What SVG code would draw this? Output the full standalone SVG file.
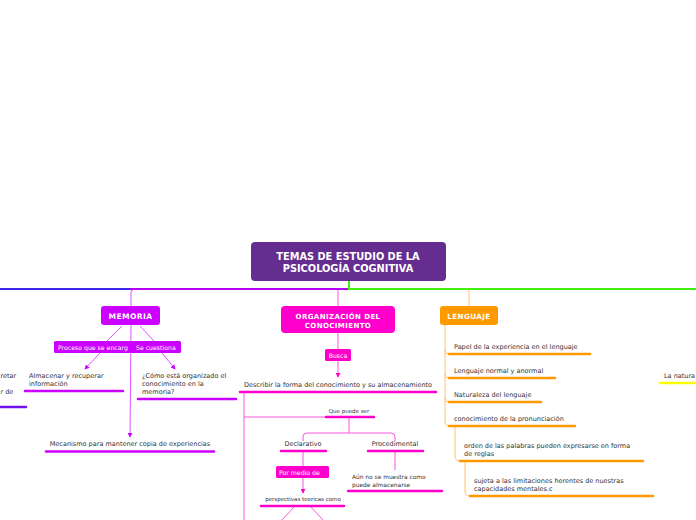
<svg xmlns="http://www.w3.org/2000/svg" width="696" height="520" viewBox="0 0 696 520">
<defs>
<style>
.t{font-family:"DejaVu Sans",Verdana,sans-serif;fill:#333;font-size:6.5px}
.s{font-size:5.5px}
.m{font-size:5.9px}
.w{font-family:"DejaVu Sans",Verdana,sans-serif;fill:#fff}
.b{font-weight:bold}
.ulm{stroke:#cc00ff;stroke-width:2.5;stroke-linecap:round}
.ulo{stroke:#ff00cc;stroke-width:2.5;stroke-linecap:round}
.ull{stroke:#ff9900;stroke-width:2.5;stroke-linecap:round}
.cm{stroke:#dd55ff;stroke-width:1;fill:none}
.co{stroke:#ff55dd;stroke-width:1;fill:none}
.cl{stroke:#ffc070;stroke-width:1;fill:none}
</style>
<marker id="am" viewBox="0 0 6 6" refX="5" refY="3" markerWidth="5" markerHeight="5" orient="auto"><path d="M0,0L6,3L0,6z" fill="#cc00ff"/></marker>
<marker id="ao" viewBox="0 0 6 6" refX="5" refY="3" markerWidth="5" markerHeight="5" orient="auto"><path d="M0,0L6,3L0,6z" fill="#ff00cc"/></marker>
</defs>
<rect width="696" height="520" fill="#fff"/>
<g id="connectors">
<line x1="0" y1="289" x2="130" y2="289" stroke="#3c28e6" stroke-width="2"/>
<line x1="130" y1="289" x2="349" y2="289" stroke="#b400f5" stroke-width="2"/>
<polyline points="349,281 349,289 696,289" stroke="#44ee11" stroke-width="2" fill="none"/>
<path class="cm" d="M131,306 V292 Q131,290 133,290"/>
<path class="co" d="M338,306 V290"/>
<path class="cl" d="M469,306 V292 Q469,290 467,290"/>
<line class="cm" x1="122" y1="326" x2="107" y2="341"/>
<line class="cm" x1="140" y1="326" x2="154" y2="341"/>
<line class="cm" x1="100" y1="353" x2="85" y2="369" marker-end="url(#am)"/>
<line class="cm" x1="162" y1="353" x2="175" y2="369" marker-end="url(#am)"/>
<line class="cm" x1="131" y1="325" x2="130" y2="437" marker-end="url(#am)"/>
<line class="co" x1="338" y1="333" x2="338" y2="349"/>
<line class="co" x1="338" y1="361" x2="338" y2="377" marker-end="url(#ao)"/>
<path class="co" d="M244,392 V520 M244,417 H325"/>
<path class="co" d="M349,417 V433 M303,441 V437 Q303,433 307,433 H391 Q395,433 395,437 V441"/>
<line class="co" x1="303" y1="451" x2="303" y2="466"/>
<line class="co" x1="303" y1="478" x2="303" y2="493" marker-end="url(#ao)"/>
<line class="co" x1="395" y1="451" x2="395" y2="470"/>
<line class="co" x1="295" y1="506" x2="281" y2="521"/>
<line class="co" x1="310" y1="506" x2="324" y2="521"/>
<path class="cl" d="M445,325 V421 Q445,426 449,426 M445,350 Q445,354 449,354 M445,374 Q445,378 449,378 M445,398 Q445,402 449,402"/>
<path class="cl" d="M455,426 V456 Q455,461 460,461"/>
<path class="cl" d="M465,461 V491 Q465,496 470,496"/>
</g>
<g id="title">
<rect x="251" y="242" width="195" height="39" rx="4" fill="#662d91"/>
<text class="w b" x="348" y="260" font-size="9.8" text-anchor="middle">TEMAS DE ESTUDIO DE LA</text>
<text class="w b" x="348" y="272" font-size="9.8" text-anchor="middle">PSICOLOGÍA COGNITIVA</text>
</g>
<g id="memoria">
<rect x="101" y="306" width="59" height="19" rx="3" fill="#cc00ff"/>
<text class="w b" x="130.5" y="319" font-size="7.6" text-anchor="middle" letter-spacing="0.4">MEMORIA</text>
</g>
<g id="label-proceso">
<rect x="54" y="341" width="81" height="12" rx="1.5" fill="#cc00ff"/>
<text class="w" x="58" y="349.5" font-size="6.2">Proceso que se encarg</text>
</g>
<g id="label-cuestiona">
<rect x="133" y="341" width="48" height="12" rx="1.5" fill="#cc00ff"/>
<text class="w" x="136" y="349.5" font-size="6.2">Se cuestiona</text>
</g>
<g id="left-cut">
<text class="t" x="0.5" y="378">retar</text>
<text class="t" x="0.5" y="394">r de</text>
<line x1="-2" y1="407" x2="26" y2="407" stroke="#7010ee" stroke-width="2.5" stroke-linecap="round"/>
</g>
<g id="almacenar">
<text class="t" x="29" y="378">Almacenar y recuperar</text>
<text class="t" x="29" y="386">información</text>
<line class="ulm" x1="25" y1="391" x2="123" y2="391"/>
</g>
<g id="como">
<text class="t" x="142" y="378">¿Cómo está organizado el</text>
<text class="t" x="142" y="386">conocimiento en la</text>
<text class="t" x="142" y="394">memoria?</text>
<line class="ulm" x1="138" y1="399" x2="236" y2="399"/>
</g>
<g id="mecanismo">
<text class="t" x="130" y="446" text-anchor="middle">Mecanismo para mantener copia de experiencias</text>
<line class="ulm" x1="46" y1="451.5" x2="214" y2="451.5"/>
</g>
<g id="organizacion">
<rect x="281" y="306" width="114" height="27" rx="4" fill="#ff00cc"/>
<text class="w b" x="338" y="318.5" font-size="7" text-anchor="middle" letter-spacing="0.4">ORGANIZACIÓN DEL</text>
<text class="w b" x="338" y="328" font-size="7" text-anchor="middle" letter-spacing="0.4">CONOCIMIENTO</text>
</g>
<g id="label-busca">
<rect x="325" y="349" width="26" height="12" rx="1.5" fill="#ff00cc"/>
<text class="w" x="338" y="357.5" font-size="6.2" text-anchor="middle">Busca</text>
</g>
<g id="describir">
<text class="t" x="338" y="387" text-anchor="middle">Describir la forma del conocimiento y su almacenamiento</text>
<line class="ulo" x1="240" y1="392" x2="436" y2="392"/>
</g>
<g id="quepuede">
<text class="t s" x="349" y="413" text-anchor="middle">Que puede ser</text>
<line class="ulo" x1="326" y1="417" x2="374" y2="417"/>
</g>
<g id="declarativo">
<text class="t" x="303" y="446" text-anchor="middle">Declarativo</text>
<line class="ulo" x1="281" y1="451" x2="326" y2="451"/>
</g>
<g id="procedimental">
<text class="t" x="395" y="446" text-anchor="middle">Procedimental</text>
<line class="ulo" x1="368" y1="451" x2="423" y2="451"/>
</g>
<g id="label-pormedio">
<rect x="276" y="466" width="53" height="12" rx="1.5" fill="#ff00cc"/>
<text class="w" x="279" y="474.5" font-size="6.2">Por medio de</text>
</g>
<g id="perspectivas">
<text class="t s" x="303" y="501" text-anchor="middle">perspectivas teoricas como</text>
<line class="ulo" x1="261" y1="506" x2="344" y2="506"/>
</g>
<g id="aun">
<text class="t m" x="352" y="479">Aún no se muestra como</text>
<text class="t m" x="352" y="486.5">puede almacenarse</text>
<line class="ulo" x1="348" y1="491" x2="442" y2="491"/>
</g>
<g id="lenguaje">
<rect x="440" y="306" width="58" height="19" rx="3" fill="#ff9900"/>
<text class="w b" x="469" y="319" font-size="7.2" text-anchor="middle" letter-spacing="0.4">LENGUAJE</text>
</g>
<g id="papel">
<text class="t" x="454" y="349">Papel de la experiencia en el lenguaje</text>
<line class="ull" x1="449" y1="354" x2="590" y2="354"/>
</g>
<g id="normal">
<text class="t" x="454" y="373">Lenguaje normal y anormal</text>
<line class="ull" x1="449" y1="378" x2="555" y2="378"/>
</g>
<g id="naturaleza">
<text class="t" x="454" y="397">Naturaleza del lenguaje</text>
<line class="ull" x1="449" y1="402" x2="541" y2="402"/>
</g>
<g id="pronunciacion">
<text class="t" x="454" y="421">conocimiento de la pronunciación</text>
<line class="ull" x1="449" y1="426" x2="575" y2="426"/>
</g>
<g id="orden">
<text class="t" x="464" y="448">orden de las palabras pueden expresarse en forma</text>
<text class="t" x="464" y="456">de reglas</text>
<line class="ull" x1="460" y1="461" x2="643" y2="461"/>
</g>
<g id="sujeta">
<text class="t" x="474" y="483">sujeta a las limitaciones herentes de nuestras</text>
<text class="t" x="474" y="491">capacidades mentales.c</text>
<line class="ull" x1="470" y1="496" x2="653" y2="496"/>
</g>
<g id="right-cut">
<text class="t" x="664" y="378">La natura</text>
<line x1="660" y1="383" x2="698" y2="383" stroke="#ffff00" stroke-width="2.5" stroke-linecap="round"/>
</g>
</svg>
